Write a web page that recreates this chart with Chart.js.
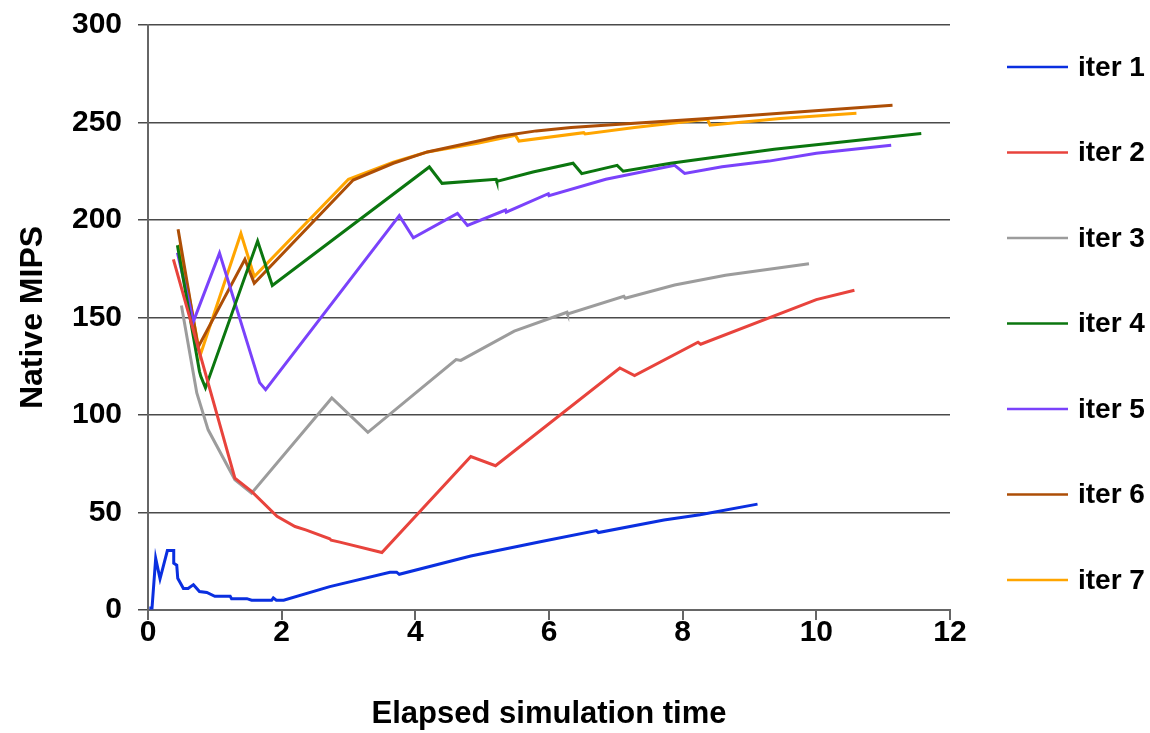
<!DOCTYPE html>
<html>
<head>
<meta charset="utf-8">
<script src="https://cdn.jsdelivr.net/npm/chart.js@4/dist/chart.umd.min.js"></script>
<style>
  html, body { margin: 0; padding: 0; background: #ffffff; }
  #wrap { position: relative; width: 1150px; height: 733px; }
</style>
</head>
<body>
<div id="wrap"><canvas id="c" width="1150" height="733"></canvas></div>
<script>
// ---- data ----
const seriesNames = ["iter 1", "iter 2", "iter 3", "iter 4", "iter 5", "iter 6", "iter 7"];
const seriesColors = ["#0a2fe0", "#e8433c", "#9c9c9c", "#0b760f", "#7a42fb", "#ad4e06", "#ffa500"];

const iter1X = [0.02, 0.06, 0.115, 0.18, 0.29, 0.385, 0.385, 0.43, 0.445, 0.53, 0.6, 0.68, 0.77, 0.88, 1.0, 1.23, 1.25, 1.48, 1.55, 1.85, 1.875, 1.92, 2.03, 2.72, 3.62, 3.72, 3.76, 4.83, 5.87, 6.71, 6.74, 7.72, 8.26, 9.12];
const iter1Y = [1, 1, 26.5, 16, 30.5, 30.5, 24, 23, 16.3, 11, 11, 13, 9.5, 9, 7, 7, 5.8, 5.8, 5, 5, 6.2, 5, 5, 12, 19.4, 19.4, 18.3, 27.7, 35, 40.7, 39.7, 46.2, 48.8, 54.3];

const iter2X = [0.38, 1.30, 1.55, 1.93, 2.2, 2.37, 2.72, 2.74, 2.87, 3.5, 4.83, 5.2, 7.06, 7.28, 8.23, 8.27, 10.0, 10.57];
const iter2Y = [179.8, 67.6, 60.8, 48, 42.8, 41, 36.5, 35.8, 34.8, 29.5, 78.7, 74, 124.1, 120.2, 137.3, 136.3, 159.2, 164];

const iter3X = [0.50, 0.73, 0.90, 1.30, 1.55, 2.75, 3.29, 4.61, 4.68, 5.48, 6.27, 6.28, 7.12, 7.14, 7.88, 8.64, 9.89];
const iter3Y = [156.1, 111.3, 92.4, 66.8, 59.9, 108.7, 91.1, 128.4, 128, 143, 152.7, 151.8, 160.9, 159.9, 166.7, 171.7, 177.6];

const iter4X = [0.44, 0.77, 0.79, 0.86, 1.64, 1.86, 4.21, 4.40, 5.21, 5.22, 5.76, 6.36, 6.49, 7.02, 7.11, 7.82, 8.7, 9.37, 11.57];
const iter4Y = [187, 122.4, 119.8, 113.9, 189.2, 166.4, 227.2, 218.8, 220.9, 219.8, 224.6, 229.1, 223.8, 228, 225, 229.1, 233.2, 236.3, 244.3];

const iter5X = [0.44, 0.68, 1.07, 1.67, 1.76, 3.76, 3.97, 4.63, 4.78, 5.35, 5.36, 5.99, 6.0, 6.85, 7.88, 8.03, 8.59, 9.29, 10.0, 11.12];
const iter5Y = [183.2, 148, 183, 116.6, 113, 202.2, 190.9, 203.4, 197.2, 205.1, 204, 213.5, 212.5, 220.9, 228, 223.9, 227.3, 230.2, 234.2, 238.3];

const iter6X = [0.45, 0.75, 1.45, 1.59, 3.07, 3.67, 4.18, 4.94, 5.24, 5.81, 6.33, 7.28, 8.37, 9.46, 11.14];
const iter6Y = [195.2, 134.8, 179.8, 167.5, 220.5, 229.1, 234.9, 240.5, 242.8, 245.7, 247.4, 249.6, 252, 254.8, 258.9];

const iter7X = [0.47, 0.78, 1.39, 1.59, 3.0, 3.67, 4.18, 4.93, 5.5, 5.55, 6.52, 6.54, 7.28, 8.37, 8.41, 9.46, 10.6];
const iter7Y = [187.5, 130.5, 193.1, 171, 220.9, 229.7, 234.9, 239.3, 243.4, 240.5, 244.8, 244.1, 247.4, 251.7, 248.6, 252, 254.8];

const xTicks = [0, 2, 4, 6, 8, 10, 12];
const yTicks = [0, 50, 100, 150, 200, 250, 300];
const xTitle = "Elapsed simulation time";
const yTitle = "Native MIPS";

// ---- build chart ----
const allX = [iter1X, iter2X, iter3X, iter4X, iter5X, iter6X, iter7X];
const allY = [iter1Y, iter2Y, iter3Y, iter4Y, iter5Y, iter6Y, iter7Y];

const datasets = seriesNames.map((name, i) => ({
  label: name,
  data: allX[i].map((x, j) => ({ x: x, y: allY[i][j] })),
  borderColor: seriesColors[i],
  backgroundColor: seriesColors[i],
  borderWidth: 3,
  pointRadius: 0,
  tension: 0,
  fill: false
}));

const FONT = "'Liberation Sans', Arial, Helvetica, sans-serif";
Chart.defaults.font.family = FONT;
Chart.defaults.font.weight = 'bold';
Chart.defaults.color = '#000';

const legendPlugin = {
  id: 'sideLegend',
  afterDraw(chart) {
    const ctx = chart.ctx;
    ctx.save();
    chart.data.datasets.forEach((ds, i) => {
      const y = 67 + i * 85.5;
      ctx.strokeStyle = ds.borderColor;
      ctx.lineWidth = 2.4;
      ctx.beginPath();
      ctx.moveTo(1007, y);
      ctx.lineTo(1068, y);
      ctx.stroke();
      ctx.fillStyle = '#000';
      ctx.font = "bold 28px " + FONT;
      ctx.textAlign = 'left';
      ctx.textBaseline = 'middle';
      ctx.fillText(ds.label, 1078, y + 1);
    });
    ctx.restore();
  }
};

new Chart(document.getElementById('c'), {
  type: 'line',
  data: { datasets: datasets },
  plugins: [legendPlugin],
  options: {
    responsive: false,
    animation: false,
    layout: { padding: { left: 0, right: 200, top: 25, bottom: 0 } },
    plugins: { legend: { display: false }, tooltip: { enabled: false } },
    scales: {
      x: {
        type: 'linear',
        min: 0, max: 12,
        afterBuildTicks: (s) => { s.ticks = xTicks.map(v => ({ value: v })); },
        afterFit: (s) => { s.height = 123; },
        ticks: { font: { size: 30, weight: 'bold' }, padding: -5, color: '#000', maxRotation: 0 },
        grid: { drawOnChartArea: false, drawTicks: true, tickLength: 10, color: '#666', lineWidth: 2 },
        border: { display: true, color: '#666', width: 2 },
        title: { display: true, text: xTitle, font: { size: 31, weight: 'bold' }, color: '#000', padding: { top: 0, bottom: 0 } }
      },
      y: {
        type: 'linear',
        min: 0, max: 300,
        afterBuildTicks: (s) => { s.ticks = yTicks.map(v => ({ value: v })); },
        afterFit: (s) => { s.width = 148; s.paddingTop = 0; s.paddingBottom = 0; },
        ticks: { font: { size: 30, weight: 'bold' }, padding: 16, color: '#000' },
        grid: { drawOnChartArea: true, drawTicks: true, tickLength: 10, color: '#4a4a4a', lineWidth: 1.5 },
        border: { display: true, color: '#666', width: 2 },
        title: { display: true, text: yTitle, font: { size: 32, weight: 'bold' }, color: '#000', padding: { top: 14, bottom: 0 } }
      }
    }
  }
});
</script>
</body>
</html>
